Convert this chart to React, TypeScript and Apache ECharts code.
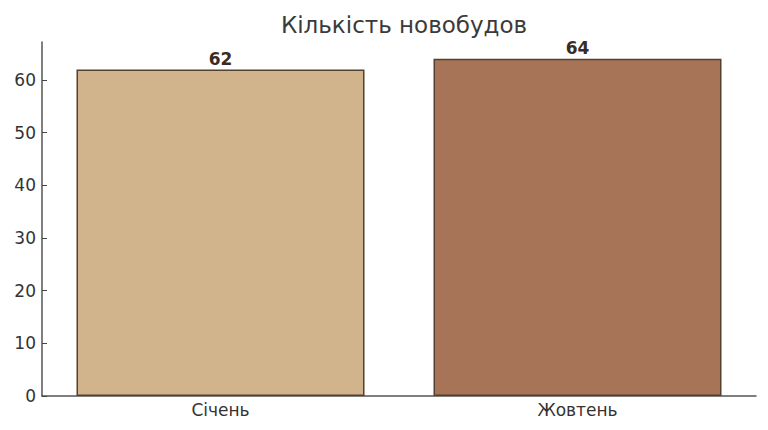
import React, { useEffect, useRef } from "react";
import * as echarts from "echarts";

const categories = ["Січень", "Жовтень"];
const values = [62, 64];
const barColors = ["#D2B48C", "#A87457"];
const yTicks = [0, 10, 20, 30, 40, 50, 60];
const chartTitle = "Кількість новобудов";

export default function App() {
  const ref = useRef<HTMLDivElement>(null);
  useEffect(() => {
    if (!ref.current) return;
    const chart = echarts.init(ref.current, null, { renderer: "svg" });
    const font = "DejaVu Sans";
    chart.setOption({
      animation: false,
      textStyle: { fontFamily: font },
      title: {
        text: chartTitle,
        left: 399,
        top: 8,
        textAlign: "center",
        textStyle: { fontFamily: font, fontSize: 23, fontWeight: "normal", color: "#3a3a3a" },
      },
      grid: { left: 42, right: 12, top: 42, bottom: 34, containLabel: false },
      xAxis: {
        type: "category",
        data: categories,
        boundaryGap: true,
        axisLine: { show: true, lineStyle: { color: "#555", width: 1.5 } },
        axisTick: { show: true, inside: true, alignWithLabel: true, length: 5, lineStyle: { color: "#444" } },
        axisLabel: { color: "#333", fontSize: 17, fontFamily: font, margin: 5 },
        splitLine: { show: false },
      },
      yAxis: {
        type: "value",
        min: 0,
        max: 67.2,
        interval: 10,
        axisLine: { show: true, lineStyle: { color: "#555", width: 1.5 } },
        axisTick: { show: true, inside: true, length: 5, lineStyle: { color: "#444" } },
        axisLabel: {
          color: "#333",
          fontSize: 17,
          fontFamily: font,
          margin: 6,
          showMaxLabel: false,
          formatter: (v: number) => (yTicks.includes(v) ? String(v) : ""),
        },
        splitLine: { show: false },
      },
      series: [
        {
          type: "bar",
          barWidth: 288,
          data: values.map((v, i) => ({
            value: v,
            itemStyle: { color: barColors[i], borderColor: "#54402f", borderWidth: 1.5 },
          })),
          label: {
            show: true,
            position: "top",
            distance: 2,
            fontFamily: font,
            fontSize: 17,
            fontWeight: "bold",
            color: "#3a2c22",
          },
        },
      ],
    });
    return () => chart.dispose();
  }, []);
  return <div ref={ref} style={{ width: 768, height: 430, position: "absolute", left: 0, top: 0 }} />;
}
